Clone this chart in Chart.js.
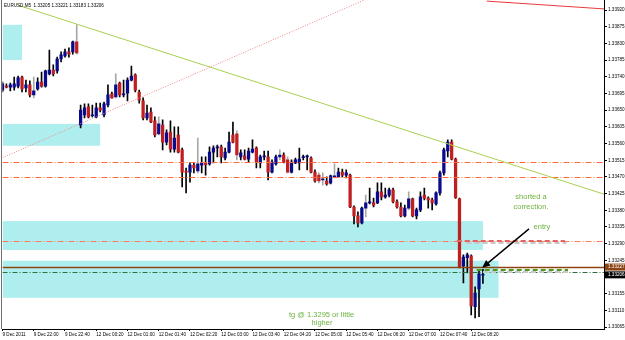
<!DOCTYPE html>
<html>
<head>
<meta charset="utf-8">
<script src="https://cdn.jsdelivr.net/npm/chart.js@4.4.0/dist/chart.umd.min.js"></script>
<style>
  html, body { margin: 0; padding: 0; background: #fff; }
</style>
</head>
<body>
<canvas id="chart" width="625" height="340"></canvas>
<script>
// EURUSD M5 - Fri 9 Dec 2011 21:20 .. Mon 12 Dec 2011 08:35 (weekend gap after 22:55)
function hhmm(m) {
  return String(Math.floor(m / 60)).padStart(2, '0') + ':' + String(m % 60).padStart(2, '0');
}
const categories = [];
for (let m = 21 * 60 + 20; m <= 22 * 60 + 55; m += 5) categories.push('9 Dec ' + hhmm(m));
for (let m = 0; m <= 8 * 60 + 35; m += 5) categories.push('12 Dec ' + hhmm(m));
while (categories.length < 155) categories.push(''); // empty space right of the last bar

const tickLabels = ['9 Dec 2011', '9 Dec 22:00', '9 Dec 22:40', '12 Dec 00:20', '12 Dec 01:00',
  '12 Dec 01:40', '12 Dec 02:20', '12 Dec 03:00', '12 Dec 03:40', '12 Dec 04:20', '12 Dec 05:00',
  '12 Dec 05:40', '12 Dec 06:20', '12 Dec 07:00', '12 Dec 07:40', '12 Dec 08:20'];

const priceTicks = [1.33065, 1.33110, 1.33155, 1.33200, 1.33245, 1.33290, 1.33335, 1.33380,
  1.33425, 1.33470, 1.33515, 1.33560, 1.33605, 1.33650, 1.33695, 1.33740, 1.33785, 1.33830,
  1.33875, 1.33920];

const open = [
  1.33704, 1.33715, 1.33712, 1.33712, 1.33715, 1.33739, 1.33710, 1.33718, 1.33691, 1.33707,
  1.33726, 1.33715, 1.33748, 1.33758, 1.33756, 1.33788, 1.33796, 1.33807, 1.33807, 1.33834,
  1.33610, 1.33637, 1.33659, 1.33635, 1.33632, 1.33656, 1.33637, 1.33664, 1.33694, 1.33686,
  1.33723, 1.33691, 1.33696, 1.33731, 1.33745, 1.33699, 1.33675, 1.33629, 1.33645, 1.33621,
  1.33586, 1.33610, 1.33564, 1.33591, 1.33545, 1.33583, 1.33543, 1.33486, 1.33483, 1.33502,
  1.33486, 1.33502, 1.33507, 1.33505, 1.33537, 1.33548, 1.33551, 1.33521, 1.33537, 1.33583,
  1.33586, 1.33524, 1.33527, 1.33518, 1.33537, 1.33548, 1.33508, 1.33524, 1.33524, 1.33483,
  1.33505, 1.33524, 1.33529, 1.33516, 1.33483, 1.33508, 1.33508, 1.33522, 1.33524, 1.33521,
  1.33483, 1.33475, 1.33462, 1.33459, 1.33454, 1.33470, 1.33470, 1.33483, 1.33475, 1.33475,
  1.33389, 1.33365, 1.33346, 1.33386, 1.33400, 1.33400, 1.33400, 1.33430, 1.33416, 1.33421,
  1.33435, 1.33403, 1.33389, 1.33365, 1.33386, 1.33411, 1.33365, 1.33381, 1.33421, 1.33413,
  1.33408, 1.33397, 1.33427, 1.33481, 1.33540, 1.33564, 1.33518, 1.33411, 1.33230, 1.33252,
  1.33257, 1.33120, 1.33168, 1.33205];
const high = [
  1.33726, 1.33721, 1.33723, 1.33739, 1.33742, 1.33742, 1.33731, 1.33729, 1.33739, 1.33737,
  1.33753, 1.33758, 1.33812, 1.33772, 1.33793, 1.33807, 1.33815, 1.33818, 1.33836, 1.33880,
  1.33664, 1.33667, 1.33667, 1.33664, 1.33669, 1.33669, 1.33672, 1.33718, 1.33699, 1.33748,
  1.33726, 1.33731, 1.33737, 1.33769, 1.33748, 1.33704, 1.33683, 1.33664, 1.33656, 1.33632,
  1.33632, 1.33624, 1.33597, 1.33621, 1.33605, 1.33605, 1.33548, 1.33494, 1.33508, 1.33508,
  1.33575, 1.33524, 1.33524, 1.33551, 1.33554, 1.33556, 1.33556, 1.33548, 1.33591, 1.33618,
  1.33594, 1.33543, 1.33543, 1.33548, 1.33570, 1.33551, 1.33529, 1.33540, 1.33540, 1.33516,
  1.33529, 1.33543, 1.33535, 1.33524, 1.33516, 1.33521, 1.33548, 1.33529, 1.33529, 1.33524,
  1.33489, 1.33481, 1.33481, 1.33470, 1.33475, 1.33505, 1.33494, 1.33491, 1.33489, 1.33478,
  1.33392, 1.33376, 1.33389, 1.33421, 1.33440, 1.33413, 1.33454, 1.33454, 1.33440, 1.33440,
  1.33440, 1.33408, 1.33400, 1.33394, 1.33430, 1.33413, 1.33386, 1.33430, 1.33440, 1.33416,
  1.33413, 1.33430, 1.33486, 1.33548, 1.33570, 1.33570, 1.33521, 1.33413, 1.33260, 1.33265,
  1.33260, 1.33174, 1.33219, 1.33221];
const low = [
  1.33699, 1.33710, 1.33702, 1.33704, 1.33710, 1.33699, 1.33699, 1.33686, 1.33683, 1.33704,
  1.33712, 1.33712, 1.33745, 1.33742, 1.33750, 1.33780, 1.33793, 1.33793, 1.33801, 1.33801,
  1.33602, 1.33629, 1.33629, 1.33632, 1.33629, 1.33645, 1.33632, 1.33659, 1.33682, 1.33683,
  1.33686, 1.33686, 1.33675, 1.33729, 1.33699, 1.33669, 1.33624, 1.33624, 1.33616, 1.33578,
  1.33583, 1.33543, 1.33556, 1.33537, 1.33537, 1.33535, 1.33443, 1.33427, 1.33456, 1.33481,
  1.33481, 1.33481, 1.33475, 1.33502, 1.33508, 1.33524, 1.33508, 1.33516, 1.33535, 1.33562,
  1.33516, 1.33516, 1.33516, 1.33510, 1.33535, 1.33494, 1.33494, 1.33516, 1.33462, 1.33481,
  1.33502, 1.33516, 1.33508, 1.33481, 1.33481, 1.33506, 1.33489, 1.33516, 1.33489, 1.33481,
  1.33456, 1.33454, 1.33448, 1.33448, 1.33451, 1.33467, 1.33470, 1.33470, 1.33467, 1.33387,
  1.33343, 1.33335, 1.33343, 1.33362, 1.33397, 1.33389, 1.33398, 1.33408, 1.33413, 1.33416,
  1.33400, 1.33386, 1.33362, 1.33362, 1.33381, 1.33362, 1.33357, 1.33376, 1.33408, 1.33386,
  1.33381, 1.33394, 1.33421, 1.33475, 1.33524, 1.33516, 1.33412, 1.33225, 1.33184, 1.33211,
  1.33098, 1.33090, 1.33093, 1.33183];
const close = [
  1.33721, 1.33712, 1.33718, 1.33721, 1.33737, 1.33707, 1.33718, 1.33691, 1.33702, 1.33726,
  1.33715, 1.33756, 1.33758, 1.33748, 1.33788, 1.33799, 1.33807, 1.33801, 1.33834, 1.33804,
  1.33650, 1.33656, 1.33632, 1.33637, 1.33656, 1.33650, 1.33667, 1.33691, 1.33683, 1.33718,
  1.33691, 1.33694, 1.33731, 1.33742, 1.33704, 1.33677, 1.33629, 1.33642, 1.33618, 1.33583,
  1.33613, 1.33564, 1.33589, 1.33545, 1.33575, 1.33537, 1.33483, 1.33483, 1.33502, 1.33494,
  1.33505, 1.33508, 1.33503, 1.33537, 1.33548, 1.33551, 1.33524, 1.33537, 1.33564, 1.33564,
  1.33529, 1.33535, 1.33518, 1.33540, 1.33545, 1.33510, 1.33524, 1.33525, 1.33483, 1.33510,
  1.33524, 1.33529, 1.33510, 1.33483, 1.33510, 1.33516, 1.33518, 1.33524, 1.33524, 1.33483,
  1.33459, 1.33459, 1.33465, 1.33451, 1.33473, 1.33473, 1.33483, 1.33475, 1.33481, 1.33389,
  1.33365, 1.33346, 1.33386, 1.33400, 1.33401, 1.33394, 1.33430, 1.33416, 1.33421, 1.33435,
  1.33403, 1.33389, 1.33365, 1.33386, 1.33411, 1.33365, 1.33381, 1.33416, 1.33413, 1.33408,
  1.33400, 1.33427, 1.33481, 1.33543, 1.33564, 1.33518, 1.33414, 1.33227, 1.33254, 1.33260,
  1.33122, 1.33157, 1.33209, 1.33206];

// bars whose shadow shows up light grey on the screenshot
const greyWickBars = [8, 19, 29, 40, 50, 60, 71, 73, 81, 82, 85, 93, 104];

// drawn objects, anchored in (bar index, price)
const zones = [
  { from: -5, to: 5, top: 1.33880, bottom: 1.33785 },
  { from: -5, to: 25, top: 1.33613, bottom: 1.33554 },
  { from: -5, to: 123, top: 1.33351, bottom: 1.33273 },
  { from: -5, to: 127, top: 1.33244, bottom: 1.33144 }
];
const levels = [
  { price: 1.33510, color: '#FF6A3D', dash: [6, 2, 1, 2], width: 1 },
  { price: 1.33470, color: '#FF6A3D', dash: [6, 2, 1, 2], width: 1 },
  { price: 1.33297, color: '#FF7A5A', dash: [6, 2, 1, 2], width: 1 },
  { price: 1.33227, color: '#8B4513', dash: [], width: 1.3 },
  { price: 1.33215, color: '#2F6E3F', dash: [5, 2, 1, 2], width: 1 }
];
const trendLines = [
  { a: [4, 1.33933], b: [150, 1.33437], color: '#A8D050', dash: [], ray: true },
  { a: [0, 1.33522], b: [90, 1.33935], color: '#F08A8A', dash: [1, 1.5], ray: true },
  { a: [124, 1.33944], b: [154, 1.33923], color: '#E83A3A', dash: [], ray: false }
];
const tradeMarks = [
  { from: 118.8, to: 144.4, price: 1.33291, color: '#C8C8C8', width: 2 },
  { from: 116.3, to: 144.0, price: 1.33298, color: '#E46464', width: 2 },
  { from: 123.0, to: 145.3, price: 1.33213, color: '#C8C8C8', width: 2 },
  { from: 121.4, to: 144.8, price: 1.33219, color: '#4E9A1E', width: 2 }
];
const arrow = { from: [134.8, 1.33330], to: [122.8, 1.33225] };
const notes = [
  { text: 'shorted a', i: 135.3, price: 1.33416 },
  { text: 'correction.', i: 135.3, price: 1.33390 },
  { text: 'entry', i: 138.1, price: 1.33335 },
  { text: 'tg @ 1.3295 or little', i: 81.7, price: 1.33098 },
  { text: 'higher', i: 81.8, price: 1.33076 }
];
const priceTags = [
  { price: 1.33227, text: '1.33227', color: '#8B4513' },
  { price: 1.33206, text: '1.33206', color: '#000000' }
];
const titleText = 'EURUSD,M5  1.33205 1.33221 1.33183 1.33206';

const bodies = open.map((o, i) => [o, close[i]]);
const wicks = low.map((l, i) => [l, high[i]]);
const tickAt = tickLabels.map(t => t === '9 Dec 2011' ? 0 : categories.indexOf(t));

function line(ctx, x0, y0, x1, y1, color, width, dash) {
  ctx.strokeStyle = color;
  ctx.lineWidth = width;
  ctx.setLineDash(dash);
  ctx.beginPath();
  ctx.moveTo(x0, y0);
  ctx.lineTo(x1, y1);
  ctx.stroke();
}

const overlays = {
  id: 'overlays',
  beforeDatasetsDraw(chart) {
    const { ctx, chartArea: a, scales: { x, y } } = chart;
    ctx.save();
    ctx.beginPath();
    ctx.rect(a.left, a.top, a.width, a.height);
    ctx.clip();
    ctx.fillStyle = '#AFEEEE';
    zones.forEach(z => {
      const x0 = Math.max(x.getPixelForValue(z.from), a.left);
      const x1 = x.getPixelForValue(z.to);
      const y0 = y.getPixelForValue(z.top), y1 = y.getPixelForValue(z.bottom);
      ctx.fillRect(x0, y0, x1 - x0, y1 - y0);
    });
    ctx.restore();
  },
  afterDatasetsDraw(chart) {
    const { ctx, chartArea: a, scales: { x, y } } = chart;
    ctx.save();
    ctx.beginPath();
    ctx.rect(a.left, a.top, a.width, a.height);
    ctx.clip();

    levels.forEach(l => {
      const py = Math.round(y.getPixelForValue(l.price)) + 0.5;
      line(ctx, a.left, py, a.right, py, l.color, l.width, l.dash);
    });

    trendLines.forEach(t => {
      const x0 = x.getPixelForValue(t.a[0]), y0 = y.getPixelForValue(t.a[1]);
      let x1 = x.getPixelForValue(t.b[0]), y1 = y.getPixelForValue(t.b[1]);
      if (t.ray) {
        const k = (y1 - y0) / (x1 - x0);
        y1 = y0 + (a.right - x0) * k;
        x1 = a.right;
      }
      line(ctx, x0, y0, x1, y1, t.color, 1, t.dash);
    });

    tradeMarks.forEach(m => {
      const py = Math.round(y.getPixelForValue(m.price));
      line(ctx, x.getPixelForValue(m.from), py, x.getPixelForValue(m.to), py, m.color, m.width, [5, 3]);
    });

    // arrow pointing at the entry
    const ax0 = x.getPixelForValue(arrow.from[0]), ay0 = y.getPixelForValue(arrow.from[1]);
    const ax1 = x.getPixelForValue(arrow.to[0]), ay1 = y.getPixelForValue(arrow.to[1]);
    const ang = Math.atan2(ay1 - ay0, ax1 - ax0);
    line(ctx, ax0, ay0, ax1 - 5 * Math.cos(ang), ay1 - 5 * Math.sin(ang), '#000', 1.4, []);
    ctx.fillStyle = '#000';
    ctx.beginPath();
    ctx.moveTo(ax1, ay1);
    ctx.lineTo(ax1 - 8 * Math.cos(ang) + 3.5 * Math.sin(ang), ay1 - 8 * Math.sin(ang) - 3.5 * Math.cos(ang));
    ctx.lineTo(ax1 - 8 * Math.cos(ang) - 3.5 * Math.sin(ang), ay1 - 8 * Math.sin(ang) + 3.5 * Math.cos(ang));
    ctx.closePath();
    ctx.fill();

    ctx.fillStyle = '#6DB33F';
    ctx.font = '7.5px "Liberation Sans", Arial, sans-serif';
    ctx.textAlign = 'center';
    ctx.textBaseline = 'middle';
    notes.forEach(n => ctx.fillText(n.text, x.getPixelForValue(n.i), y.getPixelForValue(n.price)));
    ctx.restore();
  },
  afterDraw(chart) {
    const { ctx, chartArea: a, scales: { y } } = chart;
    ctx.save();
    // left frame
    line(ctx, 1.5, 0, 1.5, a.bottom, '#707070', 1, []);
    // title
    ctx.fillStyle = '#000';
    ctx.font = '4.6px "Liberation Sans", Arial, sans-serif';
    ctx.textAlign = 'left';
    ctx.textBaseline = 'middle';
    ctx.fillText(titleText, 4, 6);
    // price tags on the axis
    priceTags.forEach(p => {
      const py = y.getPixelForValue(p.price);
      ctx.fillStyle = p.color;
      ctx.fillRect(a.right + 1, py - 3.5, 21, 7);
      ctx.fillStyle = '#fff';
      ctx.fillText(p.text, a.right + 4, py);
    });
    ctx.restore();
  }
};

new Chart(document.getElementById('chart'), {
  type: 'bar',
  data: {
    labels: categories,
    datasets: [
      {
        label: 'body',
        data: bodies,
        backgroundColor: ctx => {
          const b = bodies[ctx.dataIndex];
          return b && b[1] < b[0] ? '#C01F1F' : '#0A0A8C';
        },
        barThickness: 2.6,
        minBarLength: 1,
        grouped: false,
        order: 0
      },
      {
        label: 'wick',
        data: wicks,
        backgroundColor: ctx => greyWickBars.includes(ctx.dataIndex) ? '#A8A8A8' : '#000000',
        barThickness: 1,
        grouped: false,
        order: 1
      }
    ]
  },
  options: {
    responsive: false,
    animation: false,
    layout: { padding: { left: 2.5, top: 0, right: 0, bottom: 0 } },
    plugins: { legend: { display: false }, tooltip: { enabled: false } },
    scales: {
      x: {
        offset: false,
        grid: {
          offset: false,
          drawOnChartArea: false,
          tickLength: 2,
          color: ctx => tickAt.includes(ctx.index) ? '#000' : 'rgba(0,0,0,0)'
        },
        border: { display: true, color: '#000' },
        ticks: {
          autoSkip: false,
          maxRotation: 0,
          align: 'start',
          padding: 1,
          color: '#000',
          font: { family: '"Liberation Sans", Arial, sans-serif', size: 4.6 },
          callback: (v, i) => {
            const k = tickAt.indexOf(i);
            return k >= 0 ? tickLabels[k] : '';
          }
        },
        afterFit(s) { s.height = 11; s.paddingLeft = 0; s.paddingRight = 0; }
      },
      y: {
        position: 'right',
        min: 1.33060,
        max: 1.33947,
        afterBuildTicks(s) { s.ticks = priceTicks.map(v => ({ value: v })); },
        grid: { drawOnChartArea: false, tickLength: 3, color: '#000' },
        border: { display: true, color: '#000' },
        ticks: {
          padding: 1,
          color: '#000',
          font: { family: '"Liberation Sans", Arial, sans-serif', size: 4.6 },
          callback: v => v.toFixed(5)
        },
        afterFit(s) { s.width = 21; s.paddingTop = 0; s.paddingBottom = 0; }
      }
    }
  },
  plugins: [overlays]
});
</script>
</body>
</html>
